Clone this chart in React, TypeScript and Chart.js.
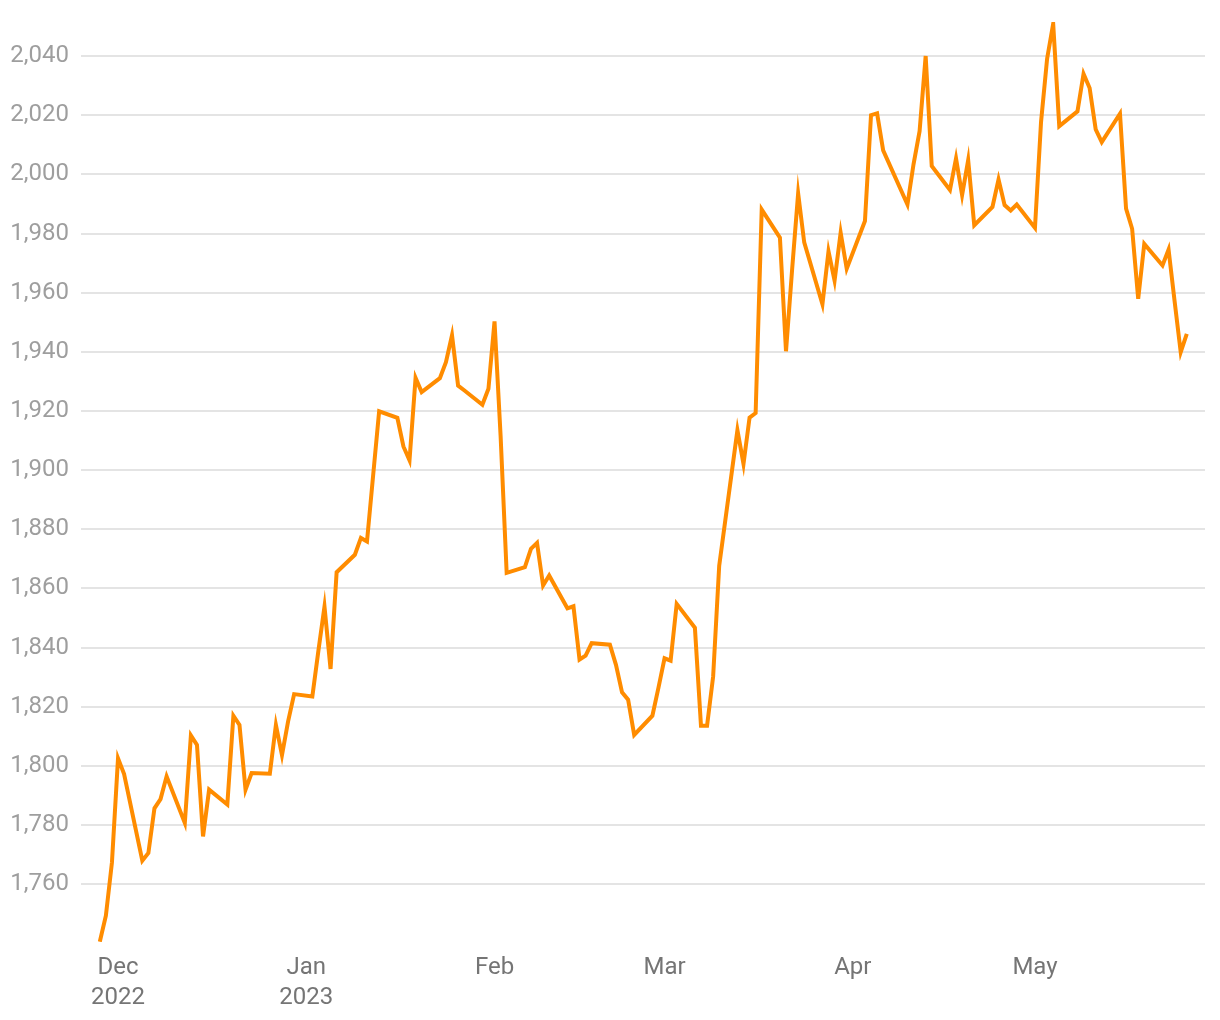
import React, { useEffect, useRef } from 'react';
import { Chart, registerables } from 'chart.js';

Chart.register(...registerables);

const dates: string[] = [
  '2022-11-28', '2022-11-29', '2022-11-30', '2022-12-01', '2022-12-02',
  '2022-12-05', '2022-12-06', '2022-12-07', '2022-12-08', '2022-12-09',
  '2022-12-12', '2022-12-13', '2022-12-14', '2022-12-15', '2022-12-16',
  '2022-12-19', '2022-12-20', '2022-12-21', '2022-12-22', '2022-12-23',
  '2022-12-26', '2022-12-27', '2022-12-28', '2022-12-29', '2022-12-30',
  '2023-01-02', '2023-01-03', '2023-01-04', '2023-01-05', '2023-01-06',
  '2023-01-09', '2023-01-10', '2023-01-11', '2023-01-12', '2023-01-13',
  '2023-01-16', '2023-01-17', '2023-01-18', '2023-01-19', '2023-01-20',
  '2023-01-23', '2023-01-24', '2023-01-25', '2023-01-26', '2023-01-27',
  '2023-01-30', '2023-01-31', '2023-02-01', '2023-02-02', '2023-02-03',
  '2023-02-06', '2023-02-07', '2023-02-08', '2023-02-09', '2023-02-10',
  '2023-02-13', '2023-02-14', '2023-02-15', '2023-02-16', '2023-02-17',
  '2023-02-20', '2023-02-21', '2023-02-22', '2023-02-23', '2023-02-24',
  '2023-02-27', '2023-02-28', '2023-03-01', '2023-03-02', '2023-03-03',
  '2023-03-06', '2023-03-07', '2023-03-08', '2023-03-09', '2023-03-10',
  '2023-03-13', '2023-03-14', '2023-03-15', '2023-03-16', '2023-03-17',
  '2023-03-20', '2023-03-21', '2023-03-22', '2023-03-23', '2023-03-24',
  '2023-03-27', '2023-03-28', '2023-03-29', '2023-03-30', '2023-03-31',
  '2023-04-03', '2023-04-04', '2023-04-05', '2023-04-06', '2023-04-10',
  '2023-04-11', '2023-04-12', '2023-04-13', '2023-04-14', '2023-04-17',
  '2023-04-18', '2023-04-19', '2023-04-20', '2023-04-21', '2023-04-24',
  '2023-04-25', '2023-04-26', '2023-04-27', '2023-04-28', '2023-05-01',
  '2023-05-02', '2023-05-03', '2023-05-04', '2023-05-05', '2023-05-08',
  '2023-05-09', '2023-05-10', '2023-05-11', '2023-05-12', '2023-05-15',
  '2023-05-16', '2023-05-17', '2023-05-18', '2023-05-19', '2023-05-22',
  '2023-05-23', '2023-05-24', '2023-05-25', '2023-05-26',
];

const prices: number[] = [
  1740.6, 1749.4, 1767.4, 1802.6, 1797.3,
  1768.0, 1770.6, 1785.7, 1788.8, 1796.5,
  1780.7, 1810.3, 1807.1, 1776.2, 1792.0,
  1787.0, 1817.0, 1813.9, 1792.0, 1797.6,
  1797.4, 1813.9, 1803.7, 1815.0, 1824.3,
  1823.5, 1839.0, 1853.9, 1832.8, 1865.5,
  1871.4, 1877.1, 1875.9, 1898.0, 1919.9,
  1917.7, 1908.0, 1903.3, 1931.2, 1926.4,
  1931.1, 1936.5, 1945.6, 1928.6, 1927.0,
  1922.1, 1927.5, 1950.3, 1911.7, 1865.3,
  1867.2, 1873.4, 1875.4, 1861.0, 1864.4,
  1853.3, 1854.0, 1836.0, 1837.3, 1841.5,
  1841.0, 1834.2, 1824.9, 1822.4, 1810.5,
  1817.0, 1826.5, 1836.4, 1835.6, 1854.8,
  1846.7, 1813.6, 1813.6, 1830.2, 1867.7,
  1913.5, 1902.1, 1917.8, 1919.3, 1988.1,
  1978.6, 1940.2, 1967.6, 1993.6, 1977.0,
  1956.1, 1974.0, 1964.1, 1980.3, 1968.1,
  1984.2, 2020.0, 2020.6, 2008.1, 1989.8,
  2003.4, 2014.6, 2040.0, 2002.8, 1994.7,
  2005.4, 1993.0, 2004.8, 1982.8, 1989.0,
  1998.3, 1989.6, 1987.8, 1989.8, 1981.9,
  2017.7, 2039.1, 2050.9, 2016.3, 2021.3,
  2034.0, 2029.2, 2015.2, 2010.9, 2020.5,
  1988.4, 1981.6, 1957.9, 1976.5, 1969.2,
  1974.6, 1957.0, 1939.9, 1946.1,
];

const monthTickDates: string[] = ['2022-12-01', '2023-01-01', '2023-02-01', '2023-03-01', '2023-04-01', '2023-05-01'];
const monthTickLabels: string[][] = [['Dec', '2022'], ['Jan', '2023'], ['Feb'], ['Mar'], ['Apr'], ['May']];
const yTickValues: number[] = [1760, 1780, 1800, 1820, 1840, 1860, 1880, 1900, 1920, 1940, 1960, 1980, 2000, 2020, 2040];

const ORIGIN = Date.UTC(2022, 11, 1);
const toDay = (s: string) => (Date.parse(s + 'T00:00:00Z') - ORIGIN) / 86400000;

const X_MIN = -4.45;
const X_MAX = 179.0;
const Y_MIN = 1740.5;
const Y_MAX = 2051.5;

export default function App() {
  const canvasRef = useRef<HTMLCanvasElement | null>(null);

  useEffect(() => {
    if (!canvasRef.current) return;
    const points = dates.map((d, i) => ({ x: toDay(d), y: prices[i] }));
    const tickDays = monthTickDates.map(toDay);
    const chart = new Chart(canvasRef.current, {
      type: 'line',
      data: {
        datasets: [
          {
            data: points,
            borderColor: '#ff8c00',
            borderWidth: 4,
            pointRadius: 0,
            tension: 0,
            fill: false,
          },
        ],
      },
      options: {
        animation: false,
        responsive: true,
        maintainAspectRatio: false,
        layout: { padding: { top: 14, right: 7, left: 0, bottom: 0 } },
        plugins: { legend: { display: false }, tooltip: { enabled: false } },
        scales: {
          x: {
            type: 'linear',
            min: X_MIN,
            max: X_MAX,
            afterBuildTicks: (axis: any) => {
              axis.ticks = tickDays.map((v) => ({ value: v }));
            },
            afterFit: (axis: any) => {
              axis.height = 70;
              axis.paddingLeft = 0;
              axis.paddingRight = 0;
            },
            grid: { display: false, drawTicks: false },
            border: { display: false },
            ticks: {
              autoSkip: false,
              maxRotation: 0,
              padding: 11,
              color: '#757575',
              font: { family: 'Roboto', size: 24, lineHeight: 1.25 },
              callback: (value: any) => {
                const idx = tickDays.findIndex((d) => Math.abs(d - Number(value)) < 0.01);
                return idx >= 0 ? monthTickLabels[idx] : '';
              },
            },
          },
          y: {
            type: 'linear',
            min: Y_MIN,
            max: Y_MAX,
            afterBuildTicks: (axis: any) => {
              axis.ticks = yTickValues.map((v) => ({ value: v }));
            },
            afterFit: (axis: any) => {
              axis.width = 83;
              axis.paddingTop = 0;
              axis.paddingBottom = 0;
            },
            grid: { color: '#e4e4e4', lineWidth: 2, drawTicks: true, tickLength: 10 },
            border: { display: false },
            ticks: {
              padding: 12,
              color: '#9e9e9e',
              font: { family: 'Roboto', size: 24 },
              callback: (value: any) => Number(value).toLocaleString('en-US'),
            },
          },
        },
      },
    });
    return () => chart.destroy();
  }, []);

  return (
    <div style={{ width: '1204px', height: '1004px', position: 'relative' }}>
      <canvas ref={canvasRef} />
    </div>
  );
}
